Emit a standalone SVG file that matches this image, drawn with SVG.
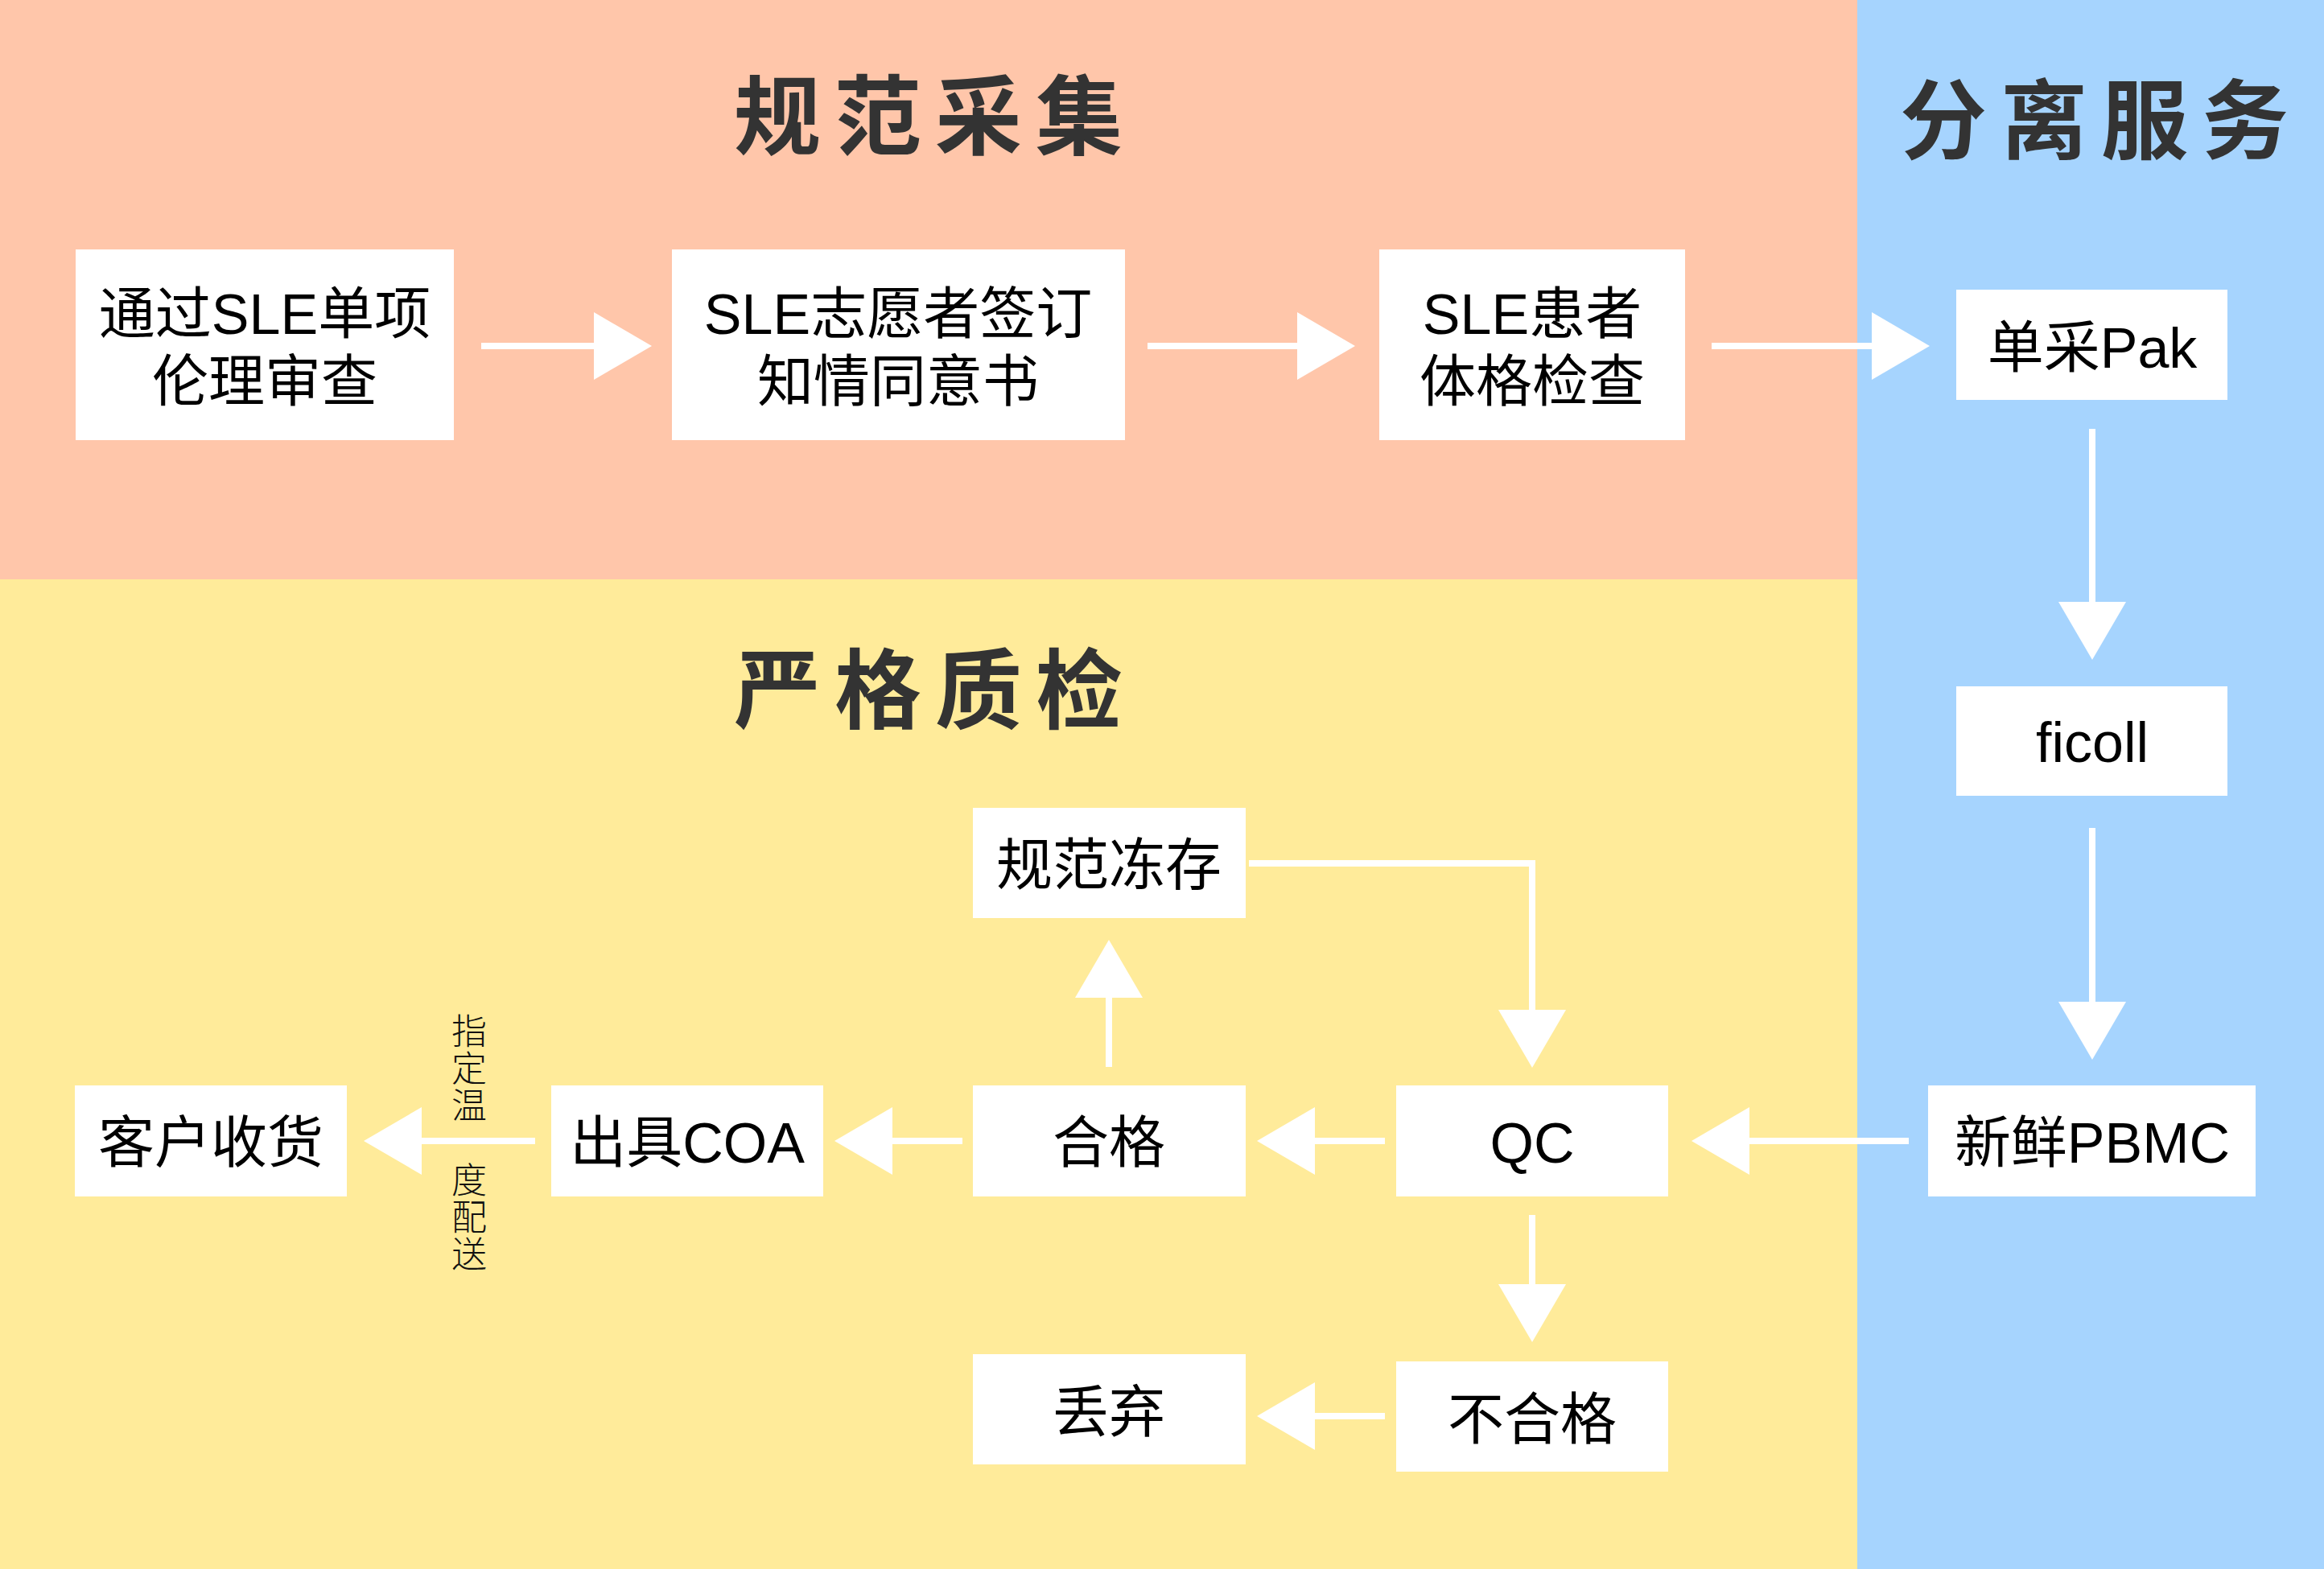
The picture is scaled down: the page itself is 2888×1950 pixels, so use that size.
<svg xmlns="http://www.w3.org/2000/svg" width="2888" height="1950" viewBox="0 0 2888 1950">
<style>
.box{fill:#ffffff}
.t{font-family:"Liberation Sans","Noto Sans CJK SC",sans-serif;font-size:70px;fill:#000;text-anchor:middle}
.title{font-family:"Noto Sans CJK SC",sans-serif;font-size:108px;font-weight:700;fill:#333333;letter-spacing:17px}
.v{font-family:"Noto Sans CJK SC",sans-serif;font-size:44px;font-weight:300;fill:#111;writing-mode:vertical-rl;letter-spacing:2px}
.c{fill:none;stroke:#ffffff;stroke-width:8;marker-end:url(#ah)}
</style>
<defs>
<marker id="ah" markerUnits="userSpaceOnUse" markerWidth="72" markerHeight="84" refX="0" refY="42" orient="auto" overflow="visible">
<path d="M0,0 L72,42 L0,84 Z" fill="#ffffff"/>
</marker>
</defs>
<g id="background">
<rect x="0" y="0" width="2308" height="720" fill="#FFC6AA"/>
<rect x="0" y="720" width="2308" height="1230" fill="#FFEB9A"/>
<rect x="2308" y="0" width="580" height="1950" fill="#A6D4FE"/>
</g>
<g id="titles">
<text class="title" x="912" y="184">规范采集</text>
<text class="title" x="912" y="897">严格质检</text>
<text class="title" x="2361" y="189">分离服务</text>
</g>
<g id="connectors">
<path class="c" d="M598,430 H738"/>
<path class="c" d="M1426,430 H1612"/>
<path class="c" d="M2127,430 H2326"/>
<path class="c" d="M2600,533 V748"/>
<path class="c" d="M2600,1029 V1245"/>
<path class="c" d="M2372,1418 H2174"/>
<path class="c" d="M1721,1418 H1634"/>
<path class="c" d="M1196,1418 H1109"/>
<path class="c" d="M665,1418 H524"/>
<path class="c" d="M1378,1326 V1240"/>
<path class="c" d="M1552,1073 H1904 V1255"/>
<path class="c" d="M1904,1510 V1596"/>
<path class="c" d="M1721,1760 H1634"/>
</g>
<g id="label-delivery">
<text class="v" x="583" y="1259">指定温</text>
<text class="v" x="583" y="1444">度配送</text>
</g>
<g id="n-ethics">
<rect class="box" x="94" y="310" width="470" height="237"/>
<text class="t" x="329" y="415">通过SLE单项</text>
<text class="t" x="329" y="499">伦理审查</text>
</g>
<g id="n-consent">
<rect class="box" x="835" y="310" width="563" height="237"/>
<text class="t" x="1116" y="415">SLE志愿者签订</text>
<text class="t" x="1116" y="499">知情同意书</text>
</g>
<g id="n-exam">
<rect class="box" x="1714" y="310" width="380" height="237"/>
<text class="t" x="1904" y="415">SLE患者</text>
<text class="t" x="1904" y="499">体格检查</text>
</g>
<g id="n-pak">
<rect class="box" x="2431" y="360" width="337" height="137"/>
<text class="t" x="2600" y="457">单采Pak</text>
</g>
<g id="n-ficoll">
<rect class="box" x="2431" y="853" width="337" height="136"/>
<text class="t" x="2600" y="947">ficoll</text>
</g>
<g id="n-pbmc">
<rect class="box" x="2396" y="1349" width="407" height="138"/>
<text class="t" x="2600" y="1445">新鲜PBMC</text>
</g>
<g id="n-qc">
<rect class="box" x="1735" y="1349" width="338" height="138"/>
<text class="t" x="1904" y="1445">QC</text>
</g>
<g id="n-pass">
<rect class="box" x="1209" y="1349" width="339" height="138"/>
<text class="t" x="1378" y="1445">合格</text>
</g>
<g id="n-freeze">
<rect class="box" x="1209" y="1004" width="339" height="137"/>
<text class="t" x="1378" y="1100">规范冻存</text>
</g>
<g id="n-fail">
<rect class="box" x="1735" y="1692" width="338" height="137"/>
<text class="t" x="1904" y="1789">不合格</text>
</g>
<g id="n-discard">
<rect class="box" x="1209" y="1683" width="339" height="137"/>
<text class="t" x="1378" y="1780">丢弃</text>
</g>
<g id="n-coa">
<rect class="box" x="685" y="1349" width="338" height="138"/>
<text class="t" x="854" y="1445">出具COA</text>
</g>
<g id="n-customer">
<rect class="box" x="93" y="1349" width="338" height="138"/>
<text class="t" x="262" y="1445">客户收货</text>
</g>
</svg>
